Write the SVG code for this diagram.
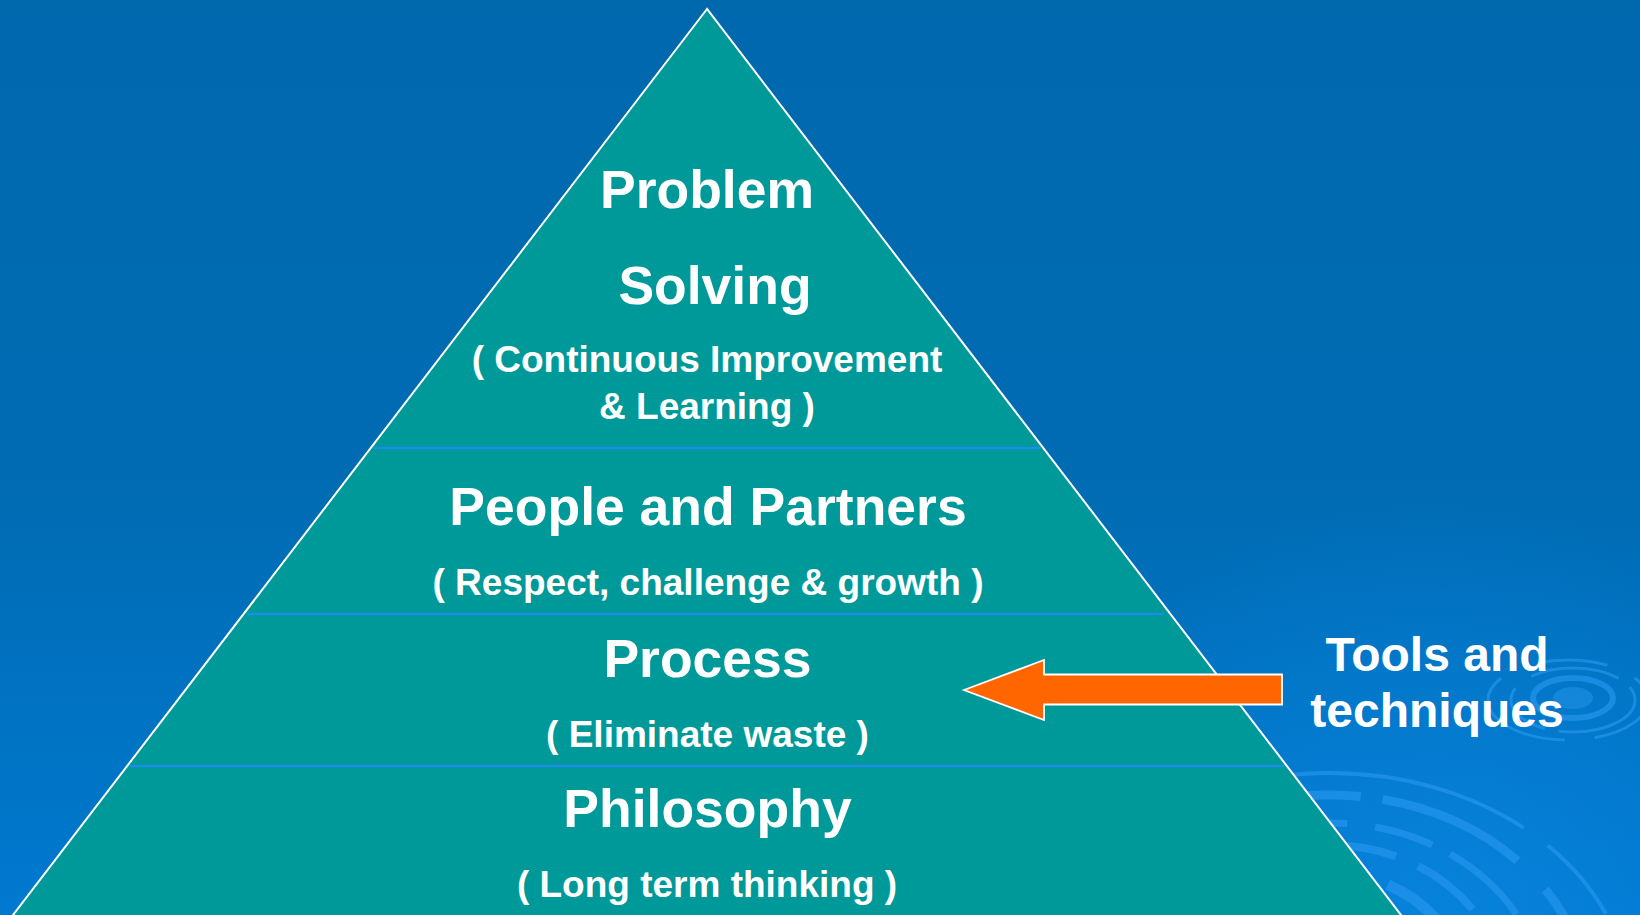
<svg xmlns="http://www.w3.org/2000/svg" width="1640" height="915" viewBox="0 0 1640 915">
  <defs>
    <linearGradient id="bg" x1="0" y1="0" x2="0" y2="1">
      <stop offset="0" stop-color="#0068ad"/>
      <stop offset="0.55" stop-color="#006cb4"/>
      <stop offset="1" stop-color="#0079d0"/>
    </linearGradient>
    <radialGradient id="glow" cx="1430" cy="915" r="420" gradientUnits="userSpaceOnUse">
      <stop offset="0" stop-color="#0a86e0" stop-opacity="0.7"/>
      <stop offset="1" stop-color="#0a86e0" stop-opacity="0"/>
    </radialGradient>
    <style>
      .title { font-family: "Liberation Sans", Arial, sans-serif; font-weight: bold; font-size: 53.5px; fill: #ffffff; text-anchor: middle; }
      .sub { font-family: "Liberation Sans", Arial, sans-serif; font-weight: bold; font-size: 37px; fill: #ffffff; text-anchor: middle; }
      .side { font-family: "Liberation Sans", Arial, sans-serif; font-weight: bold; font-size: 48px; fill: #ffffff; text-anchor: middle; }
      .divider { stroke: #1a8de6; stroke-width: 2.5; }
      .ripple { fill: none; stroke: #2a9af0; stroke-opacity: 0.6; }
    </style>
  </defs>

  <!-- background -->
  <rect x="0" y="0" width="1640" height="915" fill="url(#bg)"/>
  <rect x="0" y="0" width="1640" height="915" fill="url(#glow)"/>

  <!-- water ripple decoration, lower right -->
  <g id="ripples">
    <ellipse class="ripple" cx="1330" cy="1005" rx="300" ry="232" stroke-width="4" stroke-dasharray="120 14 260 30 90 20"/>
    <ellipse class="ripple" cx="1330" cy="1005" rx="258" ry="210" stroke-width="9" stroke-dasharray="180 22 150 40 70 16"/>
    <ellipse class="ripple" cx="1330" cy="1005" rx="215" ry="182" stroke-width="7" stroke-dasharray="90 16 140 28 60 20"/>
    <ellipse class="ripple" cx="1330" cy="1005" rx="178" ry="160" stroke-width="8" stroke-dasharray="70 18 110 24"/>
    <ellipse class="ripple" cx="1330" cy="1005" rx="140" ry="132" stroke-width="11" stroke-dasharray="120 20"/>
    <ellipse class="ripple" cx="1330" cy="1005" rx="100" ry="100" stroke-width="12" stroke-dasharray="80 16"/>
  </g>

  <!-- small ripple, right of the side label -->
  <g id="ripple-small">
    <ellipse cx="1573" cy="698" rx="20" ry="11" fill="#2a9af0" fill-opacity="0.45"/>
    <ellipse class="ripple" cx="1573" cy="698" rx="40" ry="20" stroke-width="6"/>
    <ellipse class="ripple" cx="1573" cy="700" rx="62" ry="32" stroke-width="3" stroke-dasharray="90 14 60 20"/>
    <ellipse class="ripple" cx="1568" cy="700" rx="80" ry="40" stroke-width="3" stroke-opacity="0.35" stroke-dasharray="70 30 120 40"/>
  </g>

  <!-- pyramid body -->
  <g id="pyramid">
    <polygon points="707,9 1.5,930 1412.5,930" fill="#009999" stroke="#ffffff" stroke-width="2"/>
    <line class="divider" x1="373" y1="448" x2="1040" y2="448"/>
    <line class="divider" x1="247" y1="614" x2="1164" y2="614"/>
    <line class="divider" x1="130" y1="766" x2="1284" y2="766"/>
  </g>

  <g id="tier-problem-solving">
    <text class="title" x="707" y="208">Problem</text>
    <text class="title" x="715" y="304">Solving</text>
    <text class="sub" x="707" y="372">( Continuous Improvement</text>
    <text class="sub" x="707" y="419">&amp; Learning )</text>
  </g>

  <g id="tier-people">
    <text class="title" x="708" y="525">People and Partners</text>
    <text class="sub" x="708" y="595">( Respect, challenge &amp; growth )</text>
  </g>

  <g id="tier-process">
    <text class="title" x="707.5" y="677">Process</text>
    <text class="sub" x="707.5" y="747">( Eliminate waste )</text>
  </g>

  <g id="tier-philosophy">
    <text class="title" x="707.5" y="827">Philosophy</text>
    <text class="sub" x="707" y="897">( Long term thinking )</text>
  </g>

  <g id="label-tools">
    <text class="side" x="1437" y="671">Tools and</text>
    <text class="side" x="1437" y="727">techniques</text>
  </g>

  <!-- connector: block arrow from the side label into the Process tier -->
  <g id="connectors">
    <polygon points="964,690 1044,660 1044,674.5 1282,674.5 1282,704.5 1044,704.5 1044,720" fill="#ff6600" stroke="#ffffff" stroke-width="1.8" stroke-linejoin="miter"/>
  </g>
</svg>
